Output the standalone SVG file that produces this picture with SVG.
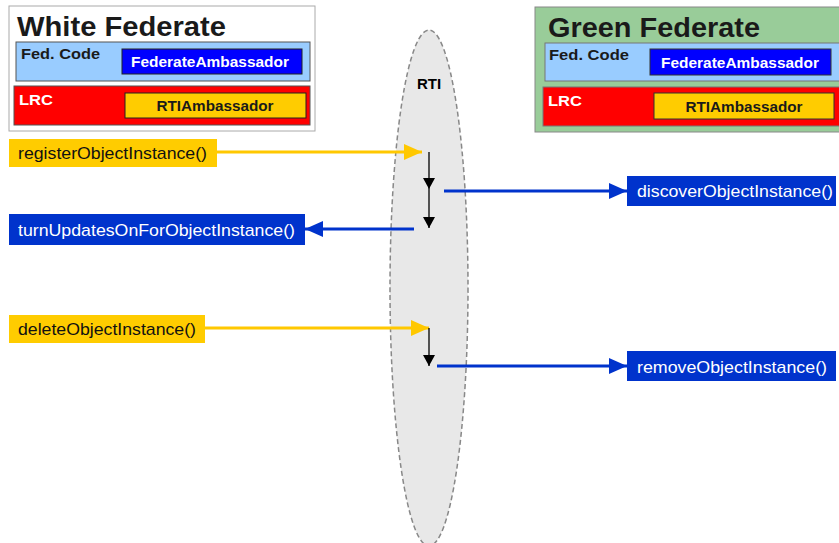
<svg xmlns="http://www.w3.org/2000/svg" width="839" height="543" viewBox="0 0 839 543">
<style>
text{font-family:"Liberation Sans",Arial,sans-serif}
.title{font-size:28px;font-weight:bold;fill:#1a1a1a}
.lbl{font-size:15px;font-weight:bold}
.amb{font-size:15px;font-weight:bold;text-anchor:middle}
.call{font-size:17px}
.y{stroke:#FFC800;stroke-width:3;fill:none}
.b{stroke:#0033CC;stroke-width:3;fill:none}
.k{stroke:#000;stroke-width:1.3;fill:none}
</style>
<defs>
<marker id="ay" markerUnits="userSpaceOnUse" markerWidth="20" markerHeight="16" refX="18" refY="8" orient="auto"><path d="M0,0 L18,8 L0,16 Z" fill="#FFC800"/></marker>
<marker id="ab" markerUnits="userSpaceOnUse" markerWidth="20" markerHeight="16" refX="18" refY="8" orient="auto"><path d="M0,0 L18,8 L0,16 Z" fill="#0033CC"/></marker>
<marker id="ak" markerUnits="userSpaceOnUse" markerWidth="12" markerHeight="12" refX="11" refY="6" orient="auto"><path d="M0,0 L11,6 L0,12 Z" fill="#000"/></marker>
</defs>
<rect width="839" height="543" fill="#fff"/>

<g id="rti">
<ellipse cx="429" cy="288" rx="39" ry="258" fill="#E8E8E8" stroke="#888" stroke-width="1.5" stroke-dasharray="5,3"/>
<text x="429" y="89" class="lbl" text-anchor="middle" fill="#000">RTI</text>
</g>

<g id="white-federate">
<rect x="9" y="6" width="306" height="125" fill="#fff" stroke="#aaa" stroke-width="1"/>
<text x="17" y="36" class="title" textLength="209" lengthAdjust="spacingAndGlyphs">White Federate</text>
<rect x="16" y="42" width="294" height="39" fill="#99CCFF" stroke="#555" stroke-width="1"/>
<text x="21" y="59" class="lbl" font-size="16" fill="#1a1a1a" textLength="79" lengthAdjust="spacingAndGlyphs">Fed. Code</text>
<rect x="122" y="49" width="180" height="25" fill="#0000FF" stroke="#222" stroke-width="1"/>
<text x="210" y="67" class="amb" fill="#fff" textLength="158" lengthAdjust="spacingAndGlyphs">FederateAmbassador</text>
<rect x="14" y="86" width="296" height="39" fill="#FF0000" stroke="#555" stroke-width="1"/>
<text x="19" y="105" class="lbl" font-size="17" fill="#fff" textLength="34" lengthAdjust="spacingAndGlyphs">LRC</text>
<rect x="125" y="93" width="181" height="25" fill="#FFCC00" stroke="#222" stroke-width="1"/>
<text x="215" y="111" class="amb" fill="#1a1a1a" textLength="117" lengthAdjust="spacingAndGlyphs">RTIAmbassador</text>
</g>

<g id="green-federate">
<rect x="535" y="7" width="310" height="125" fill="#99CC99" stroke="#888" stroke-width="1"/>
<text x="548" y="37" class="title" textLength="212" lengthAdjust="spacingAndGlyphs">Green Federate</text>
<rect x="545" y="43" width="300" height="38" fill="#99CCFF" stroke="#777" stroke-width="1"/>
<text x="549" y="60" class="lbl" font-size="16" fill="#1a1a1a" textLength="80" lengthAdjust="spacingAndGlyphs">Fed. Code</text>
<rect x="650" y="49" width="181" height="26" fill="#0000FF" stroke="#333" stroke-width="1"/>
<text x="740" y="68" class="amb" fill="#fff" textLength="158" lengthAdjust="spacingAndGlyphs">FederateAmbassador</text>
<rect x="543" y="87" width="300" height="39" fill="#FF0000" stroke="#777" stroke-width="1"/>
<text x="548" y="106" class="lbl" font-size="17" fill="#fff" textLength="34" lengthAdjust="spacingAndGlyphs">LRC</text>
<rect x="654" y="93" width="180" height="26" fill="#FFCC00" stroke="#333" stroke-width="1"/>
<text x="744" y="112" class="amb" fill="#1a1a1a" textLength="117" lengthAdjust="spacingAndGlyphs">RTIAmbassador</text>
</g>

<g id="register">
<rect x="9" y="139" width="208" height="28" fill="#FFCC00"/>
<text x="18" y="159" class="call" fill="#111" textLength="189" lengthAdjust="spacingAndGlyphs">registerObjectInstance()</text>
</g>
<g id="turnUpdates">
<rect x="9" y="214" width="296" height="31" fill="#0033CC"/>
<text x="18" y="236" class="call" fill="#fff" textLength="277" lengthAdjust="spacingAndGlyphs">turnUpdatesOnForObjectInstance()</text>
</g>
<g id="delete">
<rect x="9" y="315" width="196" height="28" fill="#FFCC00"/>
<text x="18" y="335" class="call" fill="#111" textLength="178" lengthAdjust="spacingAndGlyphs">deleteObjectInstance()</text>
</g>
<g id="discover">
<rect x="627" y="176" width="209" height="30" fill="#0033CC"/>
<text x="637" y="197" class="call" fill="#fff" textLength="196" lengthAdjust="spacingAndGlyphs">discoverObjectInstance()</text>
</g>
<g id="remove">
<rect x="627" y="351" width="209" height="30" fill="#0033CC"/>
<text x="637" y="373" class="call" fill="#fff" textLength="190" lengthAdjust="spacingAndGlyphs">removeObjectInstance()</text>
</g>

<g id="connectors">
<line x1="217" y1="152" x2="422" y2="152" class="y" marker-end="url(#ay)"/>
<line x1="429" y1="152" x2="429" y2="189" class="k" marker-end="url(#ak)"/>
<line x1="429" y1="189" x2="429" y2="228" class="k" marker-end="url(#ak)"/>
<line x1="444" y1="191" x2="627" y2="191" class="b" marker-end="url(#ab)"/>
<line x1="414" y1="229" x2="305" y2="229" class="b" marker-end="url(#ab)"/>
<line x1="205" y1="328" x2="429" y2="328" class="y" marker-end="url(#ay)"/>
<line x1="429" y1="328" x2="429" y2="366" class="k" marker-end="url(#ak)"/>
<line x1="437" y1="366" x2="627" y2="366" class="b" marker-end="url(#ab)"/>
</g>
</svg>
